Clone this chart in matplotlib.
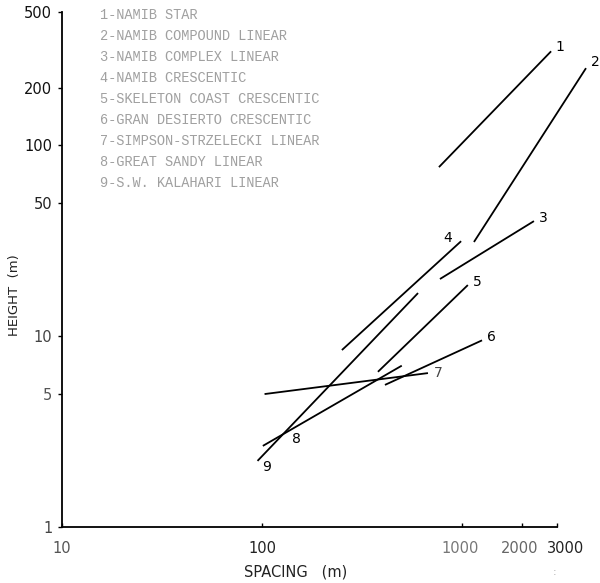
import numpy as np
import matplotlib
matplotlib.use('Agg')
import matplotlib.pyplot as plt
from matplotlib.transforms import ScaledTranslation

# dune types (legend text)
dune_names = ['NAMIB STAR', 'NAMIB COMPOUND LINEAR', 'NAMIB COMPLEX LINEAR',
              'NAMIB CRESCENTIC', 'SKELETON COAST CRESCENTIC',
              'GRAN DESIERTO CRESCENTIC', 'SIMPSON-STRZELECKI LINEAR',
              'GREAT SANDY LINEAR', 'S.W. KALAHARI LINEAR']

# end points of each regression line
spacing_lo = [767, 1148, 776, 251, 380, 412, 103, 101, 95]
spacing_hi = [2790, 4170, 2290, 990, 1070, 1260, 676, 500, 603]
height_lo = [76.7, 31.1, 19.9, 8.45, 6.5, 5.55, 4.97, 2.66, 2.22]
height_hi = [310, 253, 40.0, 31.4, 18.5, 9.5, 6.4, 7.0, 16.8]

xticks = [10, 100, 1000, 2000, 3000]
yticks = [1, 5, 10, 50, 100, 200, 500]

fig = plt.figure(figsize=(6.0, 5.83), dpi=100)
ax = fig.add_axes([0.1033, 0.096, 0.8257, 0.884])
ax.set_xscale('log')
ax.set_yscale('log')
ax.set_xlim(10, 3000)
ax.set_ylim(1, 500)

for i in range(len(dune_names)):
    ax.plot([spacing_lo[i], spacing_hi[i]], [height_lo[i], height_hi[i]],
            color='black', lw=1.3, solid_capstyle='butt', clip_on=False)

# number labels next to the lines
label_off = {1: (9, 4), 2: (9, 6), 3: (9, 3), 4: (-13, 3), 5: (9, 3),
             6: (9, 3), 7: (10, 0), 8: (34, 7), 9: (9, -6)}
for i in range(len(dune_names)):
    n = i + 1
    if n <= 7:
        xy = (spacing_hi[i], height_hi[i])
    else:
        xy = (spacing_lo[i], height_lo[i])
    dx, dy = label_off[n]
    ax.annotate(str(n), xy=xy, xytext=(dx * 0.72, dy * 0.72), textcoords='offset points',
                ha='center', va='center', fontsize=10, color='black' if n != 7 else '#444444',
                annotation_clip=False)

# legend, faint typewriter text
for i, name in enumerate(dune_names):
    fig.text(100 / 600, 1 - (15 + i * 21) / 583, '%d-%s' % (i + 1, name),
             family='Liberation Mono', fontsize=9.8, color='#a0a0a0', va='center')

for s in ['top', 'right']:
    ax.spines[s].set_visible(False)
ax.spines['left'].set_linewidth(1.3)
ax.spines['bottom'].set_linewidth(1.3)

ax.set_xticks(xticks)
ax.set_xticklabels([str(t) for t in xticks])
ax.set_yticks(yticks)
ax.set_yticklabels([str(t) for t in yticks])
ax.minorticks_off()
ax.tick_params(axis='y', direction='out', length=3, width=1, pad=4, labelsize=10.5)
ax.tick_params(axis='x', direction='in', length=3, width=1, pad=10, labelsize=10.5)

xcols = ['#555555', '#222222', '#777777', '#666666', '#222222']
xshift = [0, 0, -2, -3, 8]
for lab, c, sh in zip(ax.get_xticklabels(), xcols, xshift):
    lab.set_color(c)
    lab.set_transform(lab.get_transform() + ScaledTranslation(sh / 100, 0, fig.dpi_scale_trans))
ycols = ['#444444', '#555555', '#444444', '#222222', '#111111', '#111111', '#111111']
for lab, c in zip(ax.get_yticklabels(), ycols):
    lab.set_color(c)

fig.text(15 / 600, 1 - 295 / 583, 'HEIGHT  (m)', rotation=90, ha='center', va='center',
         fontsize=9.5, color='#222222')
fig.text(296 / 600, 1 - 572 / 583, 'SPACING   (m)', ha='center', va='center',
         fontsize=10.5, color='#222222')
fig.text(555 / 600, 1 - 572 / 583, ':', ha='center', va='center', fontsize=8, color='#aaaaaa')

fig.savefig('out.png', dpi=100)
